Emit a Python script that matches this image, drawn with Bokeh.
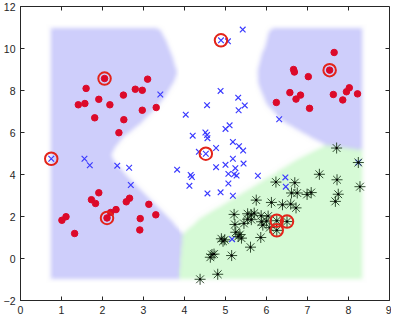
import numpy as np
from bokeh.plotting import figure
from bokeh.models import Range1d, FixedTicker
from bokeh.embed import file_html
from bokeh.resources import INLINE

# ---- data ----
red_x = [2.05, 1.60, 3.10, 2.80, 2.97, 1.41, 1.57, 1.91, 2.51, 2.18, 3.31, 2.97, 1.81, 2.52, 2.40,
         2.11, 1.91, 1.73, 1.83, 2.66, 2.58, 2.33, 2.20, 3.13, 3.30, 2.92, 2.91, 1.11, 1.01, 1.32,
         7.54, 7.65, 6.66, 6.68, 7.02, 6.57, 6.83, 6.72, 6.24, 7.05, 7.63, 7.86, 7.95, 8.02, 8.22]
red_y = [8.57, 8.10, 8.54, 8.06, 8.01, 7.32, 7.38, 7.58, 7.78, 7.32, 7.19, 7.06, 6.70, 6.61, 5.99,
         1.93, 3.13, 2.80, 2.62, 2.87, 2.70, 2.33, 2.19, 2.58, 2.08, 1.90, 1.36, 1.99, 1.82, 1.19,
         8.97, 9.81, 9.00, 8.88, 8.66, 7.90, 7.78, 7.59, 7.43, 7.15, 7.81, 7.55, 7.94, 8.13, 7.84]

blue_x = [0.75, 1.56, 1.69, 2.36, 2.65, 2.69, 3.41, 3.82, 4.03, 4.15, 4.18, 4.12, 4.20, 4.35, 4.52,
          4.51, 4.55, 4.56, 4.55, 4.56, 4.77, 4.77, 4.88, 4.88, 4.89, 5.06, 5.00, 5.10, 5.00, 5.07,
          5.21, 5.27, 5.07, 5.18, 5.18, 5.18, 5.24, 5.31, 5.32, 5.33, 5.43, 5.44, 5.42, 5.47, 5.79,
          6.31, 6.46, 6.47, 8.24, 5.16]
blue_y = [4.75, 4.75, 4.44, 4.42, 4.32, 3.50, 7.81, 4.23, 6.85, 3.98, 3.88, 3.46, 5.85, 5.08, 4.99,
          6.00, 5.88, 5.73, 7.30, 3.10, 5.26, 4.35, 7.98, 3.15, 10.39, 10.34, 6.17, 6.34, 4.46, 4.03,
          4.01, 3.95, 3.57, 5.55, 4.75, 2.99, 4.30, 7.66, 7.06, 5.35, 5.14, 4.52, 10.90, 7.29, 3.94,
          6.63, 3.86, 3.42, 4.57, 0.92]

green_x = [4.38, 4.81, 4.63, 4.67, 4.72, 5.15, 5.61, 4.90, 4.98, 4.94, 5.39, 5.31, 5.35, 5.25, 5.86,
           5.23, 5.45, 5.91, 6.08, 5.54, 5.63, 5.88, 6.00, 5.21, 5.54, 5.63, 5.70, 5.87, 6.04, 5.75,
           6.12, 6.39, 6.59, 6.72, 6.61, 6.75, 6.99, 7.09, 6.23, 6.69, 7.29, 7.72, 7.75, 7.68, 8.28,
           8.24, 7.71, 6.25, 6.50, 6.25]
green_y = [-0.99, -0.75, 0.06, 0.19, 0.21, 0.14, 0.54, 0.94, 0.89, 0.82, 0.97, 1.05, 1.14, 1.25, 1.00,
           1.62, 1.67, 1.59, 1.47, 1.87, 1.85, 1.75, 1.78, 2.10, 2.13, 2.08, 2.16, 2.04, 2.02, 2.78,
           2.67, 2.56, 2.59, 2.41, 3.12, 3.12, 3.05, 3.14, 3.64, 3.61, 4.01, 3.75, 3.06, 2.72, 3.42,
           4.57, 5.26, 1.80, 1.76, 1.34]

# circled vectors
ring_x = [2.05, 2.11, 7.54, 0.75, 4.89, 4.52, 6.25, 6.50, 6.25]
ring_y = [8.57, 1.93, 8.97, 4.75, 10.39, 4.99, 1.80, 1.76, 1.34]

# decision-region outlines
area_x = [0.72, 8.33, 8.33, 0.72]
area_y = [-1.00, -1.00, 10.97, 10.97]
left_region_x = [0.72, 3.28, 3.40, 3.52, 3.68, 3.80, 3.72, 3.53, 3.29, 2.90, 2.50, 2.31, 2.24, 2.20,
                 2.31, 2.66, 3.13, 3.53, 3.96, 3.92, 3.86, 0.72]
left_region_y = [10.97, 10.97, 10.85, 10.40, 9.62, 8.84, 8.38, 7.76, 7.15, 6.38, 5.76, 5.30, 5.05, 4.90,
                 4.52, 3.75, 2.82, 2.06, 1.12, 0.36, -1.00, -1.00]
right_region_x = [6.18, 6.05, 5.96, 5.88, 5.77, 5.80, 6.00, 6.39, 6.94, 7.45, 8.33, 8.33]
right_region_y = [10.97, 10.80, 10.08, 9.77, 8.84, 8.23, 7.30, 6.53, 5.91, 5.37, 5.14, 10.97]
green_region_x = [3.96, 4.39, 5.18, 5.96, 6.75, 7.38, 7.45, 8.33, 8.33, 3.86, 3.92]
green_region_y = [1.12, 1.90, 2.82, 3.75, 4.68, 5.30, 5.37, 5.14, -1.00, -1.00, 0.36]

x_ticks = [0, 1, 2, 3, 4, 5, 6, 7, 8, 9]
y_ticks = [-2, 0, 2, 4, 6, 8, 10, 12]


# ---- rasterise the regions (soft edges) ----
def inpoly(px, py, vx, vy):
    vx = np.asarray(vx, float)
    vy = np.asarray(vy, float)
    inside = np.zeros(px.shape, bool)
    j = len(vx) - 1
    for i in range(len(vx)):
        xi, yi, xj, yj = vx[i], vy[i], vx[j], vy[j]
        if yi != yj:
            cross = ((yi > py) != (yj > py)) & (px < (xj - xi) * (py - yi) / (yj - yi) + xi)
            inside ^= cross
        j = i
    return inside


gx0, gx1, gy0, gy1 = 0.3, 8.75, -1.5, 11.45
nx, ny = 350, 272
GX, GY = np.meshgrid(np.linspace(gx0, gx1, nx), np.linspace(gy0, gy1, ny))
rgb = np.full((ny, nx, 3), 255.0)
rgb[inpoly(GX, GY, left_region_x, left_region_y)] = (206, 206, 251)
rgb[inpoly(GX, GY, right_region_x, right_region_y)] = (206, 206, 251)
rgb[inpoly(GX, GY, green_region_x, green_region_y)] = (214, 250, 214)
rgb[~inpoly(GX, GY, area_x, area_y)] = 255.0


def box(a, r, axis):
    padw = [(0, 0)] * a.ndim
    padw[axis] = (r, r)
    ap = np.pad(a, padw, mode="edge")
    n = a.shape[axis]
    acc = np.zeros_like(a)
    for s in range(2 * r + 1):
        acc += np.take(ap, np.arange(s, s + n), axis=axis)
    return acc / (2 * r + 1)


for _ in range(2):
    rgb = box(rgb, 2, 0)
    rgb = box(rgb, 2, 1)

img = np.empty((ny, nx), dtype=np.uint32)
view = img.view(dtype=np.uint8).reshape((ny, nx, 4))
view[:, :, :3] = np.clip(rgb, 0, 255).astype(np.uint8)
view[:, :, 3] = 255

# ---- figure ----
AX = "#262626"
p = figure(width=391, height=316, x_range=Range1d(0, 9), y_range=Range1d(-2, 12),
           output_backend="svg", toolbar_location=None,
           min_border_left=17, min_border_right=2, min_border_top=6, min_border_bottom=14)
p.grid.visible = False
p.outline_line_color = AX
p.background_fill_color = "white"
p.border_fill_color = "white"

p.image_rgba(image=[img], x=gx0, y=gy0, dw=gx1 - gx0, dh=gy1 - gy0)

p.xaxis.ticker = FixedTicker(ticks=x_ticks)
p.yaxis.ticker = FixedTicker(ticks=y_ticks)
for ax in p.axis:
    ax.major_tick_in = 4
    ax.major_tick_out = 0
    ax.minor_tick_line_color = None
    ax.axis_line_color = AX
    ax.major_tick_line_color = AX
    ax.major_label_text_font = "Liberation Sans"
    ax.major_label_text_font_size = "10.5px"
    ax.major_label_text_color = AX
    ax.major_label_standoff = 5

# inward ticks on the top and right edges of the box
p.ray(x=x_ticks, y=[y_ticks[-1]] * len(x_ticks), length=4, length_units="screen",
      angle=-np.pi / 2, line_color=AX, line_width=1)
p.ray(x=[x_ticks[-1]] * len(y_ticks), y=y_ticks, length=4, length_units="screen",
      angle=np.pi, line_color=AX, line_width=1)

RED = "#dc0a2a"
p.scatter(red_x, red_y, marker="circle", size=6.5, fill_color=RED, line_color=RED)
p.scatter(blue_x, blue_y, marker="x", size=8, line_color="#3a3aff", line_width=1.15)
p.scatter(green_x, green_y, marker="asterisk", size=11, line_color="#1f3a1f", line_width=0.9)
p.scatter(green_x, green_y, marker="square", size=2, fill_color="#000000", line_color=None)
p.scatter(ring_x, ring_y, marker="circle", size=12.5, fill_color=None, line_color="#e3241a", line_width=2)

open("out.html", "w").write(file_html(p, INLINE))
